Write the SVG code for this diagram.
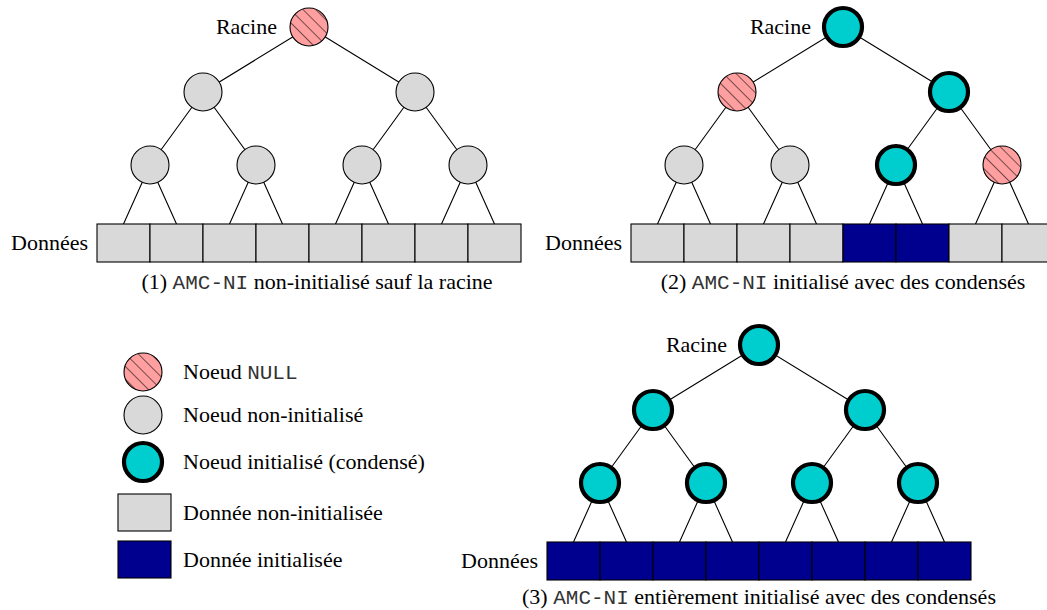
<svg xmlns="http://www.w3.org/2000/svg" width="1047" height="610" viewBox="0 0 1047 610">
  <defs>
    <pattern id="hatch" patternUnits="userSpaceOnUse" width="9" height="9" patternTransform="rotate(-45)">
      <rect width="9" height="9" fill="#ff9f9f"/>
      <line x1="0" y1="0" x2="0" y2="9" stroke="#000" stroke-width="1.1"/>
    </pattern>
    <style>
      .edge { stroke: #000; stroke-width: 1.1; fill: none; }
      .null { fill: url(#hatch); stroke: #000; stroke-width: 1.1; }
      .ni { fill: #d9d9d9; stroke: #000; stroke-width: 1.1; }
      .init { fill: #00cece; stroke: #000; stroke-width: 4.2; }
      .dni { fill: #d9d9d9; stroke: #000; stroke-width: 1.1; }
      .di { fill: #00008e; stroke: #000; stroke-width: 1.1; }
      .mono { font-family: 'Liberation Mono', 'Courier New', Cousine, 'DejaVu Sans Mono', monospace; font-size: 21px; fill: #333; }
    </style>
  </defs>
  <rect width="1047" height="610" fill="#fff"/>

  <g font-family="Liberation Serif, Times New Roman, Tinos, DejaVu Serif, Noto Serif, serif" font-size="22" fill="#000">

  <!-- ===== Tree 1 ===== -->
  <g id="tree1-edges" class="edges">
    <path class="edge" d="M309,27 L203,92 M309,27 L415,92
      M203,92 L150,165 M203,92 L256,165 M415,92 L362,165 M415,92 L468,165
      M150,165 L123.5,224 M150,165 L176.5,224 M256,165 L229.5,224 M256,165 L282.5,224
      M362,165 L335.5,224 M362,165 L388.5,224 M468,165 L441.5,224 M468,165 L494.5,224"/>
  </g>
  <g id="t1-root"><circle class="null" cx="309" cy="27" r="19"/><text x="277" y="34" text-anchor="end">Racine</text></g>
  <g id="t1-n2a"><circle class="ni" cx="203" cy="92" r="19"/></g>
  <g id="t1-n2b"><circle class="ni" cx="415" cy="92" r="19"/></g>
  <g id="t1-n3a"><circle class="ni" cx="150" cy="165" r="19"/></g>
  <g id="t1-n3b"><circle class="ni" cx="256" cy="165" r="19"/></g>
  <g id="t1-n3c"><circle class="ni" cx="362" cy="165" r="19"/></g>
  <g id="t1-n3d"><circle class="ni" cx="468" cy="165" r="19"/></g>
  <g id="t1-data">
    <rect class="dni" x="97" y="224" width="53" height="38"/>
    <rect class="dni" x="150" y="224" width="53" height="38"/>
    <rect class="dni" x="203" y="224" width="53" height="38"/>
    <rect class="dni" x="256" y="224" width="53" height="38"/>
    <rect class="dni" x="309" y="224" width="53" height="38"/>
    <rect class="dni" x="362" y="224" width="53" height="38"/>
    <rect class="dni" x="415" y="224" width="53" height="38"/>
    <rect class="dni" x="468" y="224" width="53" height="38"/>
    <text x="88" y="250" text-anchor="end">Données</text>
  </g>
  <text id="caption1" x="317" y="289" text-anchor="middle">(1) <tspan class="mono">AMC-NI</tspan> non-initialisé sauf la racine</text>

  <!-- ===== Tree 2 ===== -->
  <g id="tree2-edges" class="edges">
    <path class="edge" d="M843,27 L737,92 M843,27 L949,92
      M737,92 L684,165 M737,92 L790,165 M949,92 L896,165 M949,92 L1002,165
      M684,165 L657.5,224 M684,165 L710.5,224 M790,165 L763.5,224 M790,165 L816.5,224
      M896,165 L869.5,224 M896,165 L922.5,224 M1002,165 L975.5,224 M1002,165 L1028.5,224"/>
  </g>
  <g id="t2-root"><circle class="init" cx="843" cy="27" r="19"/><text x="811" y="34" text-anchor="end">Racine</text></g>
  <g id="t2-n2a"><circle class="null" cx="737" cy="92" r="19"/></g>
  <g id="t2-n2b"><circle class="init" cx="949" cy="92" r="19"/></g>
  <g id="t2-n3a"><circle class="ni" cx="684" cy="165" r="19"/></g>
  <g id="t2-n3b"><circle class="ni" cx="790" cy="165" r="19"/></g>
  <g id="t2-n3c"><circle class="init" cx="896" cy="165" r="19"/></g>
  <g id="t2-n3d"><circle class="null" cx="1002" cy="165" r="19"/></g>
  <g id="t2-data">
    <rect class="dni" x="631" y="224" width="53" height="38"/>
    <rect class="dni" x="684" y="224" width="53" height="38"/>
    <rect class="dni" x="737" y="224" width="53" height="38"/>
    <rect class="dni" x="790" y="224" width="53" height="38"/>
    <rect class="di" x="843" y="224" width="53" height="38"/>
    <rect class="di" x="896" y="224" width="53" height="38"/>
    <rect class="dni" x="949" y="224" width="53" height="38"/>
    <rect class="dni" x="1002" y="224" width="53" height="38"/>
    <text x="622" y="250" text-anchor="end">Données</text>
  </g>
  <text id="caption2" x="843" y="289" text-anchor="middle">(2) <tspan class="mono">AMC-NI</tspan> initialisé avec des condensés</text>

  <!-- ===== Tree 3 ===== -->
  <g id="tree3-edges" class="edges">
    <path class="edge" d="M759,345 L653,410 M759,345 L865,410
      M653,410 L600,483 M653,410 L706,483 M865,410 L812,483 M865,410 L918,483
      M600,483 L573.5,542 M600,483 L626.5,542 M706,483 L679.5,542 M706,483 L732.5,542
      M812,483 L785.5,542 M812,483 L838.5,542 M918,483 L891.5,542 M918,483 L944.5,542"/>
  </g>
  <g id="t3-root"><circle class="init" cx="759" cy="345" r="19"/><text x="727" y="352" text-anchor="end">Racine</text></g>
  <g id="t3-n2a"><circle class="init" cx="653" cy="410" r="19"/></g>
  <g id="t3-n2b"><circle class="init" cx="865" cy="410" r="19"/></g>
  <g id="t3-n3a"><circle class="init" cx="600" cy="483" r="19"/></g>
  <g id="t3-n3b"><circle class="init" cx="706" cy="483" r="19"/></g>
  <g id="t3-n3c"><circle class="init" cx="812" cy="483" r="19"/></g>
  <g id="t3-n3d"><circle class="init" cx="918" cy="483" r="19"/></g>
  <g id="t3-data">
    <rect class="di" x="547" y="542" width="53" height="38"/>
    <rect class="di" x="600" y="542" width="53" height="38"/>
    <rect class="di" x="653" y="542" width="53" height="38"/>
    <rect class="di" x="706" y="542" width="53" height="38"/>
    <rect class="di" x="759" y="542" width="53" height="38"/>
    <rect class="di" x="812" y="542" width="53" height="38"/>
    <rect class="di" x="865" y="542" width="53" height="38"/>
    <rect class="di" x="918" y="542" width="53" height="38"/>
    <text x="538" y="568" text-anchor="end">Données</text>
  </g>
  <text id="caption3" x="759" y="604" text-anchor="middle">(3) <tspan class="mono">AMC-NI</tspan> entièrement initialisé avec des condensés</text>

  <!-- ===== Legend ===== -->
  <g id="legend">
    <g id="leg-null"><circle class="null" cx="143" cy="372" r="19"/><text x="183" y="379">Noeud <tspan class="mono">NULL</tspan></text></g>
    <g id="leg-ni"><circle class="ni" cx="143" cy="415" r="19"/><text x="183" y="422">Noeud non-initialisé</text></g>
    <g id="leg-init"><circle class="init" cx="143" cy="462" r="19"/><text x="183" y="469">Noeud initialisé (condensé)</text></g>
    <g id="leg-dni"><rect class="dni" x="118" y="494" width="53" height="37"/><text x="183" y="520">Donnée non-initialisée</text></g>
    <g id="leg-di"><rect class="di" x="118" y="541" width="53" height="37"/><text x="183" y="567">Donnée initialisée</text></g>
  </g>
  </g>
</svg>
